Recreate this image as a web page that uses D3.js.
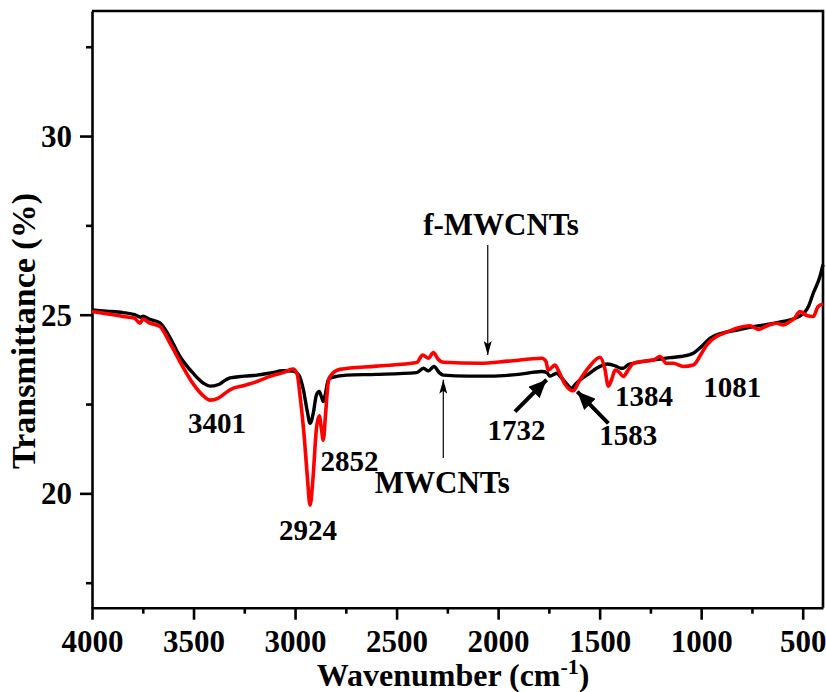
<!DOCTYPE html>
<html>
<head>
<meta charset="utf-8">
<script src="https://cdn.jsdelivr.net/npm/d3@7"></script>
<style>
  html, body { margin: 0; padding: 0; background: #fff; }
  svg { display: block; }
  text { font-family: "Liberation Serif", "Times New Roman", serif; font-weight: bold; fill: #000; }
</style>
</head>
<body>
<svg id="chart" width="826" height="692"></svg>
<script>
// FTIR spectra of pristine and functionalised multi-walled carbon nanotubes
const mwcntsWave = [4000, 3930, 3847, 3790, 3760, 3749, 3720, 3665, 3620, 3567, 3500, 3450, 3419, 3380, 3340, 3320, 3250, 3187, 3120, 3059, 3010, 2980, 2959, 2940, 2926, 2910, 2895, 2881, 2870, 2861, 2850, 2838, 2828, 2790, 2746, 2600, 2401, 2368, 2343, 2316, 2290, 2270, 2150, 2040, 1900, 1785, 1760, 1745, 1725, 1712, 1690, 1660, 1638, 1620, 1597, 1550, 1515, 1460, 1420, 1395, 1384, 1360, 1334, 1236, 1150, 1100, 1039, 1000, 957, 900, 825, 760, 694, 596, 514, 470, 448, 415, 400];
const mwcntsT = [25.13, 25.10, 25.06, 25.00, 24.93, 24.96, 24.88, 24.77, 24.40, 23.83, 23.35, 23.08, 23.00, 23.04, 23.18, 23.23, 23.28, 23.31, 23.37, 23.43, 23.42, 23.30, 22.90, 22.30, 21.96, 22.25, 22.75, 22.85, 22.70, 22.57, 22.80, 23.15, 23.22, 23.28, 23.31, 23.33, 23.38, 23.50, 23.43, 23.55, 23.38, 23.31, 23.28, 23.28, 23.33, 23.41, 23.38, 23.28, 23.33, 23.36, 23.25, 23.05, 22.94, 23.05, 23.17, 23.36, 23.50, 23.62, 23.56, 23.50, 23.50, 23.60, 23.64, 23.73, 23.80, 23.83, 23.92, 24.10, 24.34, 24.48, 24.57, 24.65, 24.71, 24.81, 24.96, 25.25, 25.60, 26.07, 26.40];

const fmwcntsWave = [4000, 3930, 3847, 3790, 3764, 3749, 3720, 3665, 3620, 3567, 3500, 3450, 3419, 3380, 3340, 3320, 3250, 3187, 3120, 3059, 3010, 2990, 2975, 2955, 2940, 2926, 2912, 2895, 2881, 2870, 2861, 2850, 2838, 2828, 2779, 2600, 2401, 2372, 2343, 2319, 2295, 2270, 2089, 1950, 1785, 1765, 1753, 1720, 1700, 1670, 1646, 1630, 1600, 1550, 1498, 1475, 1457, 1440, 1424, 1405, 1384, 1360, 1334, 1280, 1236, 1203, 1170, 1137, 1088, 1039, 1000, 973, 924, 870, 825, 760, 719, 670, 628, 596, 563, 540, 514, 480, 448, 424, 400];
const fmwcntsT = [25.09, 25.03, 24.95, 24.90, 24.76, 24.88, 24.78, 24.67, 24.25, 23.69, 23.05, 22.72, 22.61, 22.66, 22.82, 22.90, 23.02, 23.13, 23.28, 23.38, 23.48, 23.35, 22.71, 21.60, 20.50, 19.67, 20.40, 21.80, 22.17, 21.80, 21.49, 22.20, 23.05, 23.27, 23.47, 23.56, 23.66, 23.87, 23.78, 23.94, 23.75, 23.67, 23.64, 23.70, 23.78, 23.70, 23.45, 23.59, 23.40, 23.05, 22.90, 22.87, 23.15, 23.55, 23.81, 23.50, 23.00, 23.20, 23.45, 23.40, 23.27, 23.45, 23.64, 23.70, 23.73, 23.83, 23.64, 23.64, 23.55, 23.59, 23.90, 24.15, 24.39, 24.52, 24.62, 24.69, 24.59, 24.70, 24.76, 24.71, 24.81, 24.90, 25.09, 24.98, 24.95, 25.23, 25.30];

const xMajorTicks = [4000, 3500, 3000, 2500, 2000, 1500, 1000, 500];
const xMinorTicks = [3750, 3250, 2750, 2250, 1750, 1250, 750];
const yMajorTicks = [20, 25, 30];
const yMinorTicks = [17.5, 22.5, 27.5, 32.5];

const peakLabels = ["3401", "2924", "2852", "1732", "1583", "1384", "1081"];
const seriesNames = ["MWCNTs", "f-MWCNTs"];

// label anchors in data space: [wavenumber, transmittance]
const peakLabelAt = [[3384, 21.68], [2936, 18.69], [2732, 20.62], [1910, 21.49], [1359, 21.35], [1281, 22.45], [847, 22.71]];
const seriesLabelAt = [[2275, 20.0], [1986, 27.24]];
// thin pointer arrows for the series names, [from, to]
const seriesArrows = [[[2270, 20.99], [2270, 23.18]], [[2051, 26.95], [2051, 23.87]]];
// bold arrows for the 1732 and 1583 bands
const peakArrows = [[[1917, 22.29], [1761, 23.18]], [[1457, 21.96], [1610, 22.85]]];

const svg = d3.select("#chart");
const plotLeft = 92, plotRight = 823, plotTop = 11, plotBottom = 607.7;

const x = d3.scaleLinear().domain([4000, 400]).range([plotLeft, plotRight]);
const y = d3.scaleLinear().domain([16.8, 33.5]).range([plotBottom, plotTop]);

const axisStroke = 2.6;

// frame (top and right edges)
svg.append("path")
  .attr("d", `M${plotLeft},${plotTop}H${plotRight}V${plotBottom}`)
  .attr("fill", "none").attr("stroke", "#000").attr("stroke-width", axisStroke);

// x axis
const gx = svg.append("g").attr("transform", `translate(0,${plotBottom})`);
gx.call(d3.axisBottom(x).tickValues(xMajorTicks).tickSize(12).tickSizeOuter(0).tickPadding(10).tickFormat(d3.format("d")));
const gxm = svg.append("g").attr("transform", `translate(0,${plotBottom})`);
gxm.call(d3.axisBottom(x).tickValues(xMinorTicks).tickSize(6).tickSizeOuter(0).tickFormat(""));
gxm.select(".domain").remove();

// y axis
const gy = svg.append("g").attr("transform", `translate(${plotLeft},0)`);
gy.call(d3.axisLeft(y).tickValues(yMajorTicks).tickSize(12).tickSizeOuter(0).tickPadding(8).tickFormat(d3.format("d")));
const gym = svg.append("g").attr("transform", `translate(${plotLeft},0)`);
gym.call(d3.axisLeft(y).tickValues(yMinorTicks).tickSize(6).tickSizeOuter(0).tickFormat(""));
gym.select(".domain").remove();

svg.selectAll(".domain, .tick line").attr("stroke", "#000").attr("stroke-width", axisStroke);
svg.selectAll(".tick text")
  .attr("font-size", 31)
  .style("font-family", '"Liberation Serif", "Times New Roman", serif')
  .style("font-weight", "bold")
  .attr("fill", "#000");
gy.selectAll(".tick text").attr("dy", "0.34em");

// axis titles
svg.append("text")
  .attr("transform", `translate(35,331) rotate(-90)`)
  .attr("text-anchor", "middle")
  .attr("font-size", 34)
  .text("Transmittance (%)");

const xt = svg.append("text")
  .attr("x", 316.7).attr("y", 686)
  .attr("font-size", 32);
xt.append("tspan").text("Wavenumber (cm");
xt.append("tspan").attr("font-size", 22).attr("dy", -12).text("-1");
xt.append("tspan").attr("dy", 12).text(")");

// spectra
const line = d3.line()
  .x(d => x(d[0]))
  .y(d => y(d[1]))
  .curve(d3.curveMonotoneX);

const plot = svg.append("g");
plot.append("path")
  .datum(mwcntsWave.map((w, i) => [w, mwcntsT[i]]))
  .attr("d", line)
  .attr("fill", "none").attr("stroke", "#000").attr("stroke-width", 3.4)
  .attr("stroke-linejoin", "round");
plot.append("path")
  .datum(fmwcntsWave.map((w, i) => [w, fmwcntsT[i]]))
  .attr("d", line)
  .attr("fill", "none").attr("stroke", "#ff0000").attr("stroke-width", 3.6)
  .attr("stroke-linejoin", "round");

// arrowheads
const defs = svg.append("defs");
defs.append("marker")
  .attr("id", "thinHead").attr("markerUnits", "userSpaceOnUse")
  .attr("viewBox", "0 0 14 8").attr("refX", 14).attr("refY", 4)
  .attr("markerWidth", 14).attr("markerHeight", 8).attr("orient", "auto")
  .append("path").attr("d", "M0,0L14,4L0,8L3,4Z").attr("fill", "#000");
defs.append("marker")
  .attr("id", "boldHead").attr("markerUnits", "userSpaceOnUse")
  .attr("viewBox", "0 0 18 16").attr("refX", 18).attr("refY", 8)
  .attr("markerWidth", 18).attr("markerHeight", 16).attr("orient", "auto")
  .append("path").attr("d", "M0,0L18,8L0,16Z").attr("fill", "#000");

svg.append("g").selectAll("line").data(seriesArrows).join("line")
  .attr("x1", d => x(d[0][0])).attr("y1", d => y(d[0][1]))
  .attr("x2", d => x(d[1][0])).attr("y2", d => y(d[1][1]))
  .attr("stroke", "#000").attr("stroke-width", 1.2)
  .attr("marker-end", "url(#thinHead)");

svg.append("g").selectAll("line").data(peakArrows).join("line")
  .attr("x1", d => x(d[0][0])).attr("y1", d => y(d[0][1]))
  .attr("x2", d => x(d[1][0])).attr("y2", d => y(d[1][1]))
  .attr("stroke", "#000").attr("stroke-width", 4)
  .attr("marker-end", "url(#boldHead)");

// labels
svg.append("g").selectAll("text").data(peakLabels).join("text")
  .attr("x", (d, i) => x(peakLabelAt[i][0]))
  .attr("y", (d, i) => y(peakLabelAt[i][1]))
  .attr("text-anchor", "middle")
  .attr("font-size", 29)
  .text(d => d);

svg.append("g").selectAll("text").data(seriesNames).join("text")
  .attr("x", (d, i) => x(seriesLabelAt[i][0]))
  .attr("y", (d, i) => y(seriesLabelAt[i][1]))
  .attr("text-anchor", "middle")
  .attr("font-size", 31)
  .text(d => d);
</script>
</body>
</html>
